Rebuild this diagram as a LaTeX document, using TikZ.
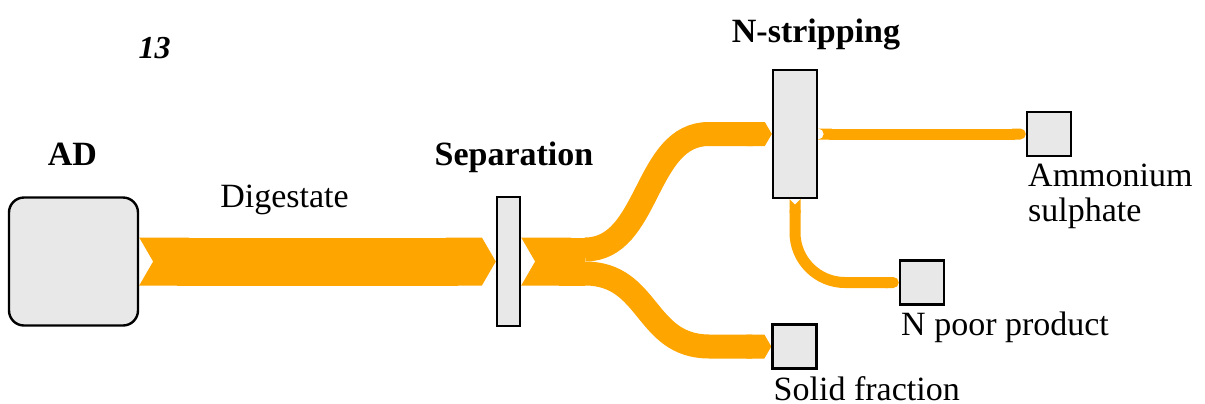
\documentclass[tikz,border=0pt]{standalone}
\usepackage{fontspec}
\setmainfont{Liberation Serif}
\usepackage{xcolor}
\usetikzlibrary{arrows.meta,calc,backgrounds}

\definecolor{flow}{HTML}{FFA500}
\definecolor{boxgrey}{HTML}{E8E8E8}

\begin{document}
\begin{tikzpicture}[x=0.5pt,y=-0.5pt,
  unit/.style={draw, fill=boxgrey, line width=1.2pt, inner sep=0pt},
  ttl/.style={font=\fontsize{17}{20}\selectfont\bfseries, anchor=base},
  txt/.style={font=\fontsize{17}{20}\selectfont, anchor=base},
  lbl/.style={font=\fontsize{17}{17.5}\selectfont, anchor=north west, align=left, inner xsep=1pt, inner ysep=0pt, yshift=-3pt},
  wide/.style={flow, line width=24pt},
  narrow/.style={flow, line width=12pt},
  thin/.style={flow, line width=5.5pt}]
\useasboundingbox (0,0) rectangle (1205,403);

\node[unit, rounded corners=7.5pt, minimum width=64.5pt, minimum height=64pt] (ad) at (73.5,261.5) {};
\node[unit, minimum width=11.5pt, minimum height=64.5pt] (sep) at (508.5,261.5) {};
\node[unit, minimum width=22pt, minimum height=64pt] (strip) at (795,134) {};
\node[unit, minimum size=22pt] (amm) at (1049,134) {};
\node[unit, minimum size=22pt] (npoor) at (922,282.5) {};
\node[unit, minimum size=22pt] (solid) at (794.5,346.5) {};
\coordinate (split) at (585,261.5);

\node[ttl, font=\fontsize{16}{19}\selectfont\bfseries\itshape] (fig) at (154.5,58) {13};
\node[ttl] (adlbl) at (72.5,165) {AD};
\node[txt] (diglbl) at (284.5,207) {Digestate};
\node[ttl] (seplbl) at (514,165) {Separation};
\node[ttl] (striplbl) at (816,42) {N-stripping};
\node[lbl] (ammlbl) at (amm.south west) {Ammonium\\sulphate};
\node[lbl] (npoorlbl) at (npoor.south west) {N poor product};
\node[lbl] (solidlbl) at (solid.south west) {Solid fraction};

\begin{scope}[on background layer]
% digestate and split after separation
\draw[wide, {Triangle Cap[reversed, length=0pt 0.29]}-{Triangle Cap[length=0pt 0.29]}] (ad.east) -- (sep.west);
\draw[wide, {Triangle Cap[reversed, length=0pt 0.29]}-] (sep.east) -- (split);
\draw[narrow, -{Triangle Cap[length=0pt 0.29]}] ($(split)+(0,-12)$) .. controls +(65,0) and +(-65,0) .. ($(strip.west)+(-63,0)$) -- (strip.west);
\draw[narrow, -{Triangle Cap[length=0pt 0.29]}] ($(split)+(0,12)$) .. controls +(65,0) and +(-65,0) .. ($(solid.west)+(-62,0)$) -- (solid.west);
% products of stripping
\draw[thin, {Round Cap[reversed]}-{Round Cap}] (strip.east) -- (amm.west);
\draw[thin, rounded corners=25pt, {Triangle Cap[reversed]}-{Round Cap}] (strip.south) |- (npoor.west);
\end{scope}
\end{tikzpicture}
\end{document}
